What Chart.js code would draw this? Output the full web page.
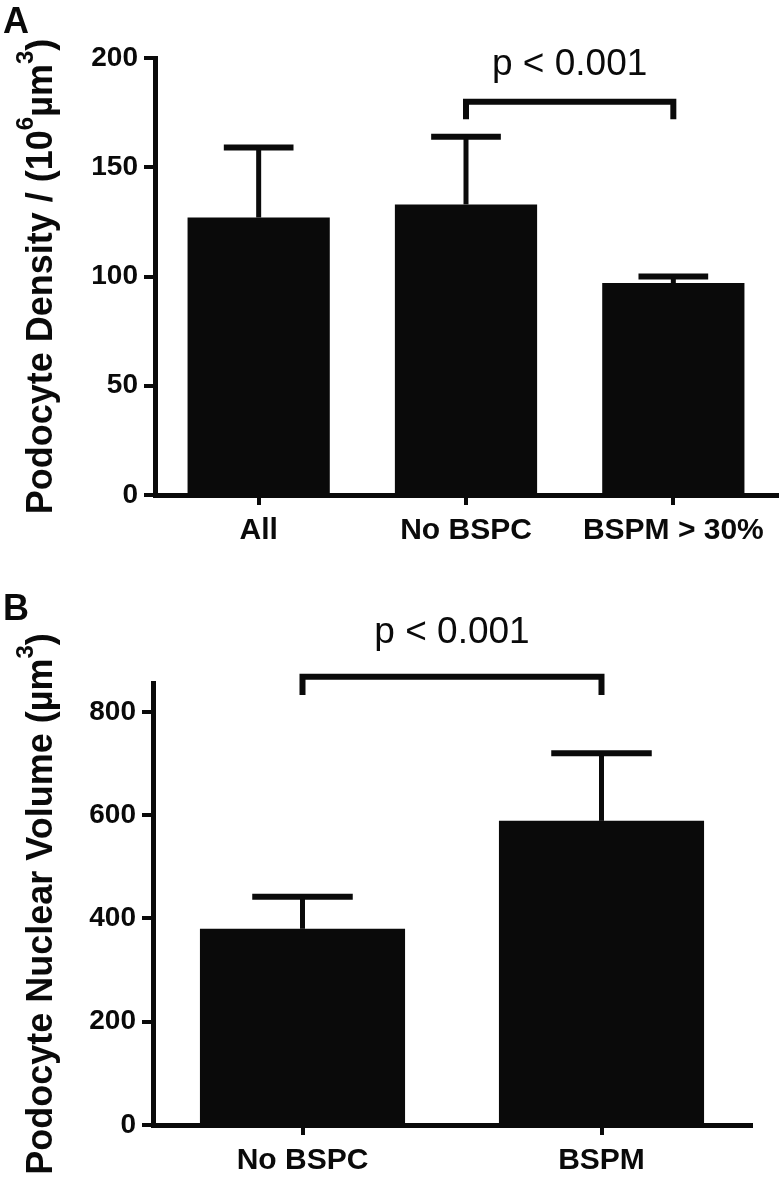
<!DOCTYPE html>
<html>
<head>
<meta charset="utf-8">
<script src="https://cdn.jsdelivr.net/npm/chart.js@4"></script>
<style>
  html, body { margin: 0; padding: 0; background: #fff; }
  #wrap { position: relative; width: 779px; height: 1181px; }
  canvas { position: absolute; left: 0; }
</style>
</head>
<body>
<div id="wrap">
  <canvas id="chartA" width="779" height="590" style="top:0px"></canvas>
  <canvas id="chartB" width="779" height="591" style="top:590px"></canvas>
</div>
<script>
// Panel A - podocyte density
const categoriesA = ['All', 'No BSPC', 'BSPM > 30%'];
const meansA = [127, 133, 97];
const errorsA = [32, 31, 3];
const yTicksA = [0, 50, 100, 150, 200];

// Panel B - podocyte nuclear volume
const categoriesB = ['No BSPC', 'BSPM'];
const meansB = [380, 589];
const errorsB = [62, 131];
const yTicksB = [0, 200, 400, 600, 800];

// significance brackets: categories joined, and [bar level, leg end, label baseline] in data units
const bracketA = [1, 2];
const bracketLevelsA = [180, 172, 192];
const bracketB = [0, 1];
const bracketLevelsB = [868, 833, 934];
const pLabel = 'p < 0.001';

const INK = '#0a0a0a';
const FONT = '"Liberation Sans", Arial, Helvetica, sans-serif';

const decor = {
    id: 'decor',
    afterDatasetsDraw(chart, args, opts) {
        const ctx = chart.ctx;
        const xs = chart.scales.x;
        const ys = chart.scales.y;
        ctx.save();
        ctx.strokeStyle = INK;
        ctx.fillStyle = INK;
        ctx.lineCap = 'butt';

        // error bars (upper only)
        chart.getDatasetMeta(0).data.forEach((bar, i) => {
            const top = ys.getPixelForValue(opts.means[i] + opts.errors[i]);
            const half = bar.width * 0.245;
            ctx.lineWidth = 5;
            ctx.beginPath();
            ctx.moveTo(bar.x, bar.y);
            ctx.lineTo(bar.x, top);
            ctx.stroke();
            ctx.lineWidth = 6;
            ctx.beginPath();
            ctx.moveTo(bar.x - half, top);
            ctx.lineTo(bar.x + half, top);
            ctx.stroke();
        });

        // bracket + p value
        const x1 = xs.getPixelForValue(opts.bracket[0]);
        const x2 = xs.getPixelForValue(opts.bracket[1]);
        const yb = ys.getPixelForValue(opts.levels[0]);
        const yl = ys.getPixelForValue(opts.levels[1]);
        ctx.lineWidth = 6;
        ctx.lineJoin = 'miter';
        ctx.beginPath();
        ctx.moveTo(x1, yl);
        ctx.lineTo(x1, yb);
        ctx.lineTo(x2, yb);
        ctx.lineTo(x2, yl);
        ctx.stroke();
        ctx.font = '37px ' + FONT;
        ctx.textAlign = 'center';
        ctx.textBaseline = 'alphabetic';
        ctx.fillText(pLabel, (x1 + x2) / 2, ys.getPixelForValue(opts.levels[2]));

        // panel letter
        ctx.font = 'bold 36px ' + FONT;
        ctx.textAlign = 'left';
        ctx.fillText(opts.letter, 3, opts.letterY);

        // y title with superscripts
        const area = chart.chartArea;
        ctx.translate(opts.titleX, (area.top + area.bottom) / 2);
        ctx.rotate(-Math.PI / 2);
        const big = 'bold 36px ' + FONT;
        const small = 'bold 24px ' + FONT;
        let total = 0;
        opts.title.forEach(p => {
            ctx.font = p[1] ? small : big;
            total += ctx.measureText(p[0]).width;
        });
        let pos = -total / 2;
        opts.title.forEach(p => {
            ctx.font = p[1] ? small : big;
            ctx.fillText(p[0], pos, p[1] ? -19 : 0);
            pos += ctx.measureText(p[0]).width;
        });
        ctx.restore();
    }
};

function makeChart(id, labels, means, yMax, yTicks, pad, yWidth, decorOpts) {
    return new Chart(document.getElementById(id), {
        type: 'bar',
        data: {
            labels: labels,
            datasets: [{
                data: means,
                backgroundColor: INK,
                categoryPercentage: 0.686,
                barPercentage: 1
            }]
        },
        options: {
            responsive: false,
            animation: false,
            devicePixelRatio: 1,
            layout: { padding: pad },
            plugins: {
                legend: { display: false },
                tooltip: { enabled: false },
                decor: decorOpts
            },
            scales: {
                x: {
                    grid: { offset: false, drawOnChartArea: false, tickLength: 10, lineWidth: 4, color: INK },
                    border: { width: 5, color: INK },
                    ticks: { color: INK, font: { family: FONT, size: 30, weight: 'bold' }, padding: 8 },
                    afterFit: s => { s.height = 50; }
                },
                y: {
                    min: 0,
                    max: yMax,
                    afterBuildTicks: s => { s.ticks = yTicks.map(v => ({ value: v })); },
                    grid: { drawOnChartArea: false, tickLength: 11, lineWidth: 4, color: INK },
                    border: { width: 5, color: INK },
                    ticks: { color: INK, font: { family: FONT, size: 28, weight: 'bold' }, padding: 6 },
                    afterFit: s => { s.width = yWidth; }
                }
            }
        },
        plugins: [decor]
    });
}

makeChart('chartA', categoriesA, meansA, 200, yTicksA,
    { top: 58, right: 2, bottom: 45, left: 0 }, 155,
    {
        means: meansA, errors: errorsA, bracket: bracketA, levels: bracketLevelsA,
        letter: 'A', letterY: 33, titleX: 52,
        title: [['Podocyte Density / (10', false], ['6', true], ['\u00b5m', false], ['3', true], [')', false]]
    });

makeChart('chartB', categoriesB, meansB, 856, yTicksB,
    { top: 93, right: 28, bottom: 6, left: 0 }, 153,
    {
        means: meansB, errors: errorsB, bracket: bracketB, levels: bracketLevelsB,
        letter: 'B', letterY: 30, titleX: 52,
        title: [['Podocyte Nuclear Volume (\u00b5m', false], ['3', true], [')', false]]
    });
</script>
</body>
</html>
